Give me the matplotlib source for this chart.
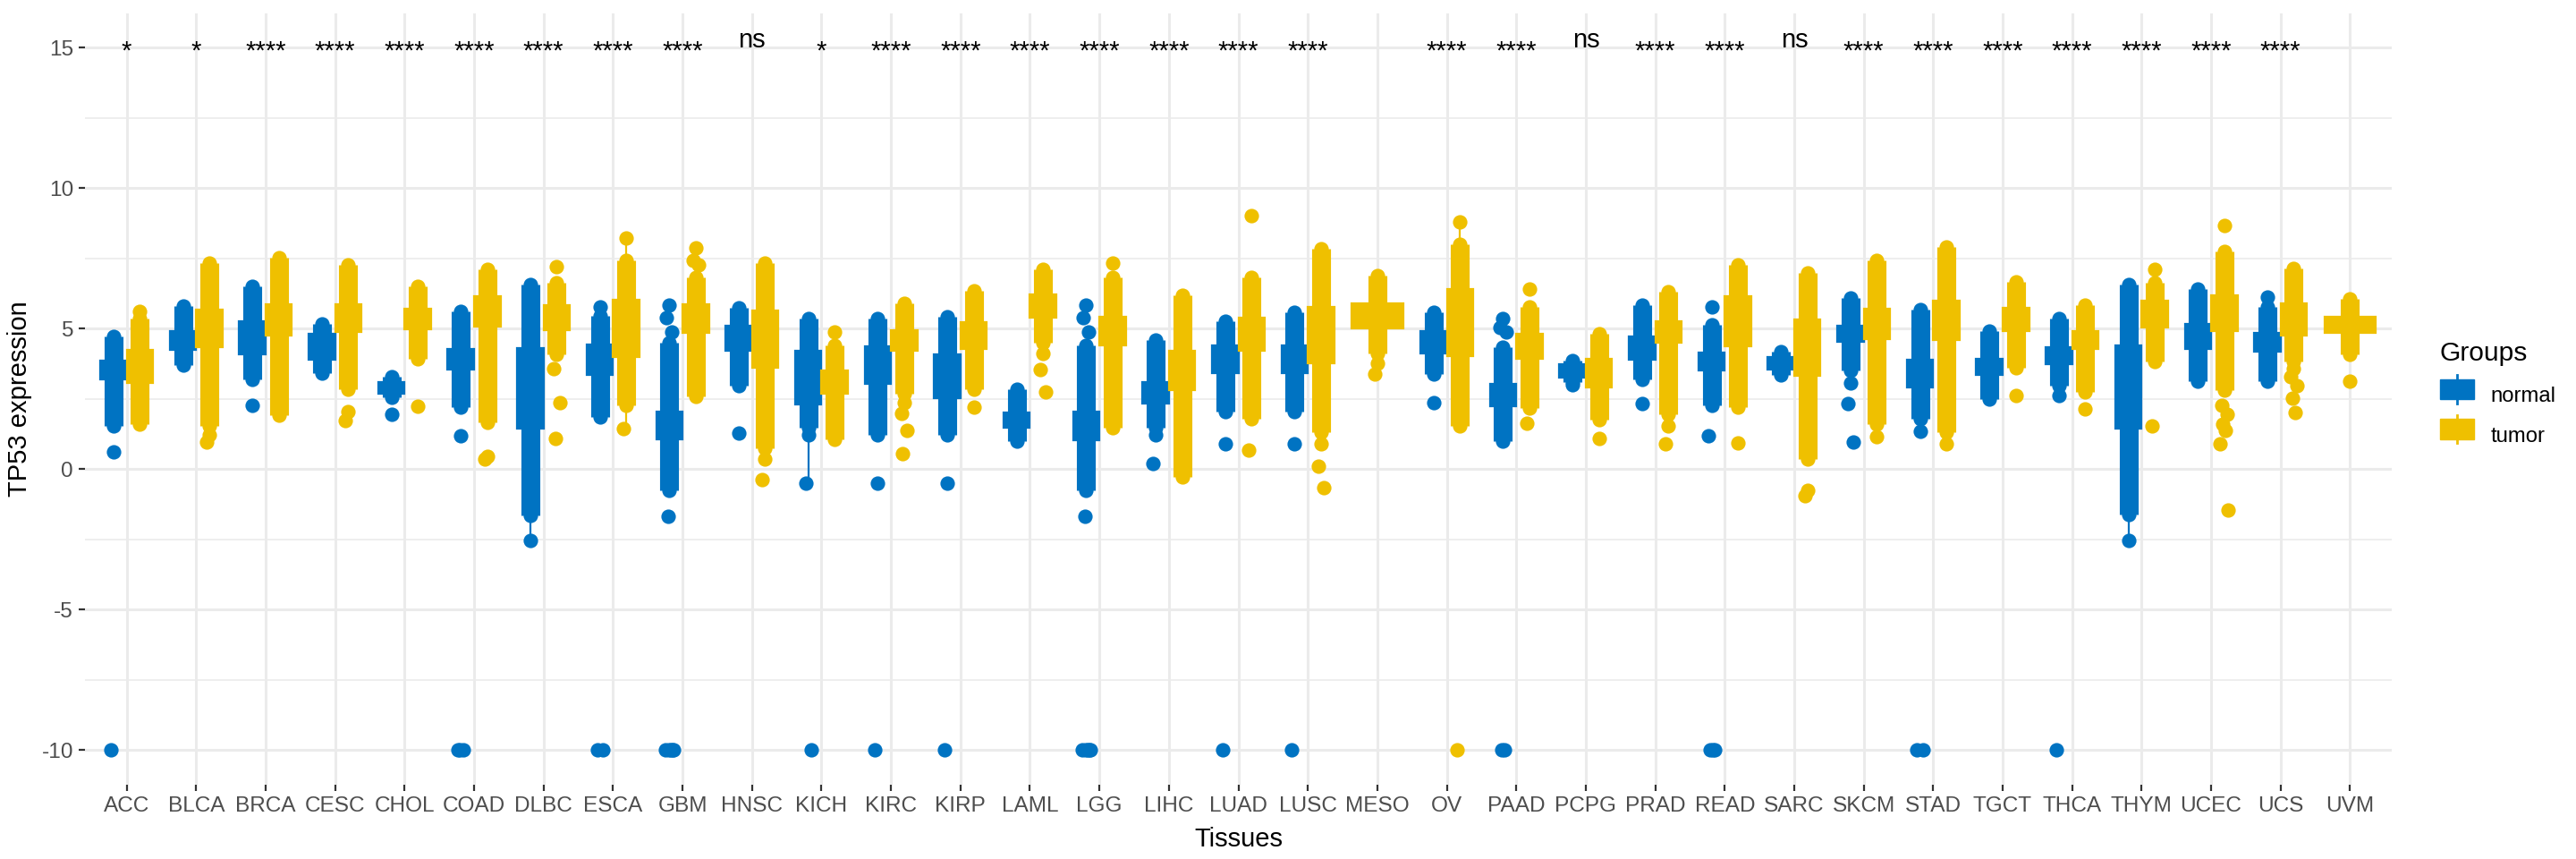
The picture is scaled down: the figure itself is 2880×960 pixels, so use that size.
import numpy as np
import matplotlib
matplotlib.use("Agg")
import matplotlib.pyplot as plt
from matplotlib.patches import Rectangle
from matplotlib.lines import Line2D
from matplotlib.legend_handler import HandlerBase

plt.rcParams['font.family'] = ['Liberation Sans', 'DejaVu Sans']
plt.rcParams['axes.unicode_minus'] = False

tissues = ['ACC', 'BLCA', 'BRCA', 'CESC', 'CHOL', 'COAD', 'DLBC', 'ESCA', 'GBM', 'HNSC',
           'KICH', 'KIRC', 'KIRP', 'LAML', 'LGG', 'LIHC', 'LUAD', 'LUSC', 'MESO', 'OV',
           'PAAD', 'PCPG', 'PRAD', 'READ', 'SARC', 'SKCM', 'STAD', 'TGCT', 'THCA', 'THYM',
           'UCEC', 'UCS', 'UVM']
signif = ['*', '*', '****', '****', '****', '****', '****', '****', '****', 'ns',
          '*', '****', '****', '****', '****', '****', '****', '****', '', '****',
          '****', 'ns', '****', '****', 'ns', '****', '****', '****', '****', '****',
          '****', '****', '']

nan = np.nan
# normal: box quartiles and range of the dense point column
normal_q1 = [3.18, 4.26, 4.08, 3.90, 2.70, 3.55, 1.43, 3.34, 1.06, 4.21, 2.30, 3.04, 2.54, 1.48, 1.03, 2.35, 3.42,
             3.42, nan, 4.11, 2.25, 3.26, 3.89, 3.50, 3.55, 4.53, 2.91, 3.37, 3.74, 1.43, 4.29, 4.19, nan]
normal_q3 = [3.88, 4.90, 5.25, 4.82, 3.10, 4.27, 4.32, 4.43, 2.06, 5.11, 4.21, 4.38, 4.10, 2.01, 2.06, 3.10, 4.40,
             4.40, nan, 4.93, 3.03, 3.73, 4.72, 4.16, 4.00, 5.11, 3.89, 3.94, 4.35, 4.40, 5.17, 4.86, nan]
normal_lo = [1.53, 3.71, 3.18, 3.42, 2.57, 2.22, -1.65, 1.85, -0.75, 2.97, 1.48, 1.22, 1.22, 1.00, -0.75, 1.48, 2.06,
             2.06, nan, 3.39, 1.00, 3.10, 3.18, 2.28, 3.37, 3.50, 1.80, 2.49, 2.97, -1.60, 3.13, 3.13, nan]
normal_hi = [4.72, 5.80, 6.52, 5.16, 3.29, 5.62, 6.56, 5.46, 4.51, 5.73, 5.36, 5.36, 5.41, 2.86, 4.40, 4.61, 5.25,
             5.57, nan, 5.57, 4.35, 3.87, 5.83, 5.14, 4.19, 6.10, 5.67, 4.93, 5.36, 6.58, 6.42, 5.78, nan]
normal_extra = {
    'ACC': [0.63, -10], 'BRCA': [2.28], 'CHOL': [1.96], 'COAD': [1.18, -10, -10, -10],
    'DLBC': [-2.55], 'ESCA': [5.78, -10, -10],
    'GBM': [5.83, 5.38, 4.88, -1.68, -10, -10, -10, -10, -10], 'HNSC': [1.27],
    'KICH': [1.22, -0.51, -10], 'KIRC': [-0.51, -10], 'KIRP': [-0.51, -10],
    'LGG': [5.83, 5.38, 4.88, -1.68, -10, -10, -10, -10, -10], 'LIHC': [1.22, 0.21],
    'LUAD': [0.90, -10], 'LUSC': [0.90, -10], 'OV': [2.38],
    'PAAD': [5.36, 5.04, 4.88, -10, -10], 'PCPG': [2.99], 'PRAD': [2.33],
    'READ': [5.78, 1.18, -10, -10, -10], 'SKCM': [3.07, 2.35, 0.97], 'STAD': [1.35, -10, -10],
    'THCA': [2.62, -10], 'THYM': [-2.55], 'UCS': [6.13],
}

# tumor
tumor_q1 = [3.07, 4.35, 4.77, 4.88, 4.98, 5.08, 4.96, 3.98, 4.86, 3.60, 2.68, 4.23, 4.27, 5.38, 4.40, 2.81, 4.21,
            3.76, 5.01, 4.01, 3.92, 2.91, 4.51, 4.37, 3.31, 4.63, 4.59, 4.93, 4.27, 5.04, 4.93, 4.75, 4.85]
tumor_q3 = [4.26, 5.67, 5.86, 5.86, 5.72, 6.17, 5.83, 6.02, 5.86, 5.64, 3.53, 4.96, 5.22, 6.23, 5.43, 4.21, 5.38,
            5.76, 5.89, 6.42, 4.82, 3.94, 5.27, 6.17, 5.33, 5.71, 6.01, 5.73, 4.93, 6.01, 6.20, 5.89, 5.44]
tumor_lo = [1.59, 1.53, 1.91, 2.86, 3.92, 1.67, 4.08, 2.28, 2.60, 0.74, 1.06, 2.70, 2.86, 4.51, 1.48, -0.27, 1.80,
            1.32, 4.13, 1.53, 2.17, 1.75, 1.96, 2.22, 0.37, 1.59, 1.32, 3.60, 2.75, 3.82, 2.81, 3.82, 4.08]
tumor_hi = [5.36, 7.35, 7.53, 7.27, 6.52, 7.11, 6.63, 7.43, 6.84, 7.32, 4.40, 5.89, 6.36, 7.11, 6.84, 6.20, 6.84,
            7.85, 6.89, 8.01, 5.78, 4.82, 6.31, 7.27, 7.00, 7.43, 7.90, 6.68, 5.83, 6.63, 7.74, 7.16, 6.05]
tumor_extra = {
    'ACC': [5.62], 'BLCA': [1.22, 0.98], 'CESC': [2.06, 1.72], 'CHOL': [2.25], 'COAD': [0.47, 0.37],
    'DLBC': [7.21, 3.57, 2.36, 1.11], 'ESCA': [8.22, 1.43], 'GBM': [7.88, 7.43, 7.27],
    'HNSC': [0.37, -0.38], 'KICH': [4.88], 'KIRC': [2.38, 1.98, 1.37, 0.55], 'KIRP': [2.22],
    'LAML': [4.13, 3.55, 2.75], 'LGG': [7.32], 'LUAD': [9.02, 0.68], 'LUSC': [0.90, 0.12, -0.66],
    'MESO': [3.76, 3.39], 'OV': [8.81, -10], 'PAAD': [6.40, 1.64], 'PCPG': [1.11],
    'PRAD': [1.53, 0.90], 'READ': [0.93], 'SARC': [-0.75, -0.94], 'SKCM': [1.16], 'STAD': [0.90],
    'TGCT': [2.62], 'THCA': [2.15], 'THYM': [7.11, 1.53],
    'UCEC': [8.68, 2.28, 1.96, 1.59, 1.37, 0.90, -1.46], 'UCS': [3.57, 3.29, 2.97, 2.54, 2.01],
    'UVM': [3.13],
}

colors = {'normal': '#0073C2', 'tumor': '#EFC000'}
jit = [0.0, -0.04, 0.04, -0.02, 0.02, -0.06, 0.06, -0.01, 0.05]
dot = 34

fig = plt.figure(figsize=(14.4, 4.8), dpi=200)
ax = fig.add_axes([95 / 2880, 1 - 876.7 / 960, (2674 - 95) / 2880, (876.7 - 15) / 960])


def draw_group(x, width, q1, q3, lo, hi, extra, col):
    vals = [lo, hi] + [v for v in extra if v > -9]
    iqr = q3 - q1
    whi = max([v for v in vals if v <= q3 + 1.5 * iqr] + [q3])
    wlo = min([v for v in vals if v >= q1 - 1.5 * iqr] + [q1])
    ax.plot([x, x], [wlo, whi], color=col, lw=0.8, zorder=2)
    ax.add_patch(Rectangle((x - width / 2, q1), width, iqr, fc=col, ec=col, lw=0.8, zorder=3))
    ax.plot([x, x], [lo, hi], color=col, lw=7.6, solid_capstyle='butt', zorder=4)
    ax.scatter([x, x], [lo, hi], s=dot, color=col, lw=0, zorder=4)
    ex = np.array(extra, dtype=float)
    if len(ex):
        xs = [x + jit[k % len(jit)] for k in range(len(ex))]
        ax.scatter(xs, ex, s=dot, color=col, lw=0, zorder=4)


for i, t in enumerate(tissues):
    single = np.isnan(normal_q1[i])
    if single:
        draw_group(i, 0.74, tumor_q1[i], tumor_q3[i], tumor_lo[i], tumor_hi[i],
                   tumor_extra.get(t, []), colors['tumor'])
    else:
        draw_group(i - 0.19, 0.38, normal_q1[i], normal_q3[i], normal_lo[i], normal_hi[i],
                   normal_extra.get(t, []), colors['normal'])
        draw_group(i + 0.19, 0.38, tumor_q1[i], tumor_q3[i], tumor_lo[i], tumor_hi[i],
                   tumor_extra.get(t, []), colors['tumor'])
    lab = signif[i]
    if lab == 'ns':
        ax.text(i, 15, lab, ha='center', va='baseline', fontsize=10.5, zorder=5)
    elif lab:
        ax.annotate(lab, (i, 15), xytext=(0, -4.5), textcoords='offset points',
                    ha='center', va='baseline', fontsize=10.5, zorder=5)

ax.set_xlim(-0.6, 32.6)
ax.set_ylim(-11.22, 16.22)
ax.set_xticks(range(len(tissues)))
ax.set_xticklabels(tissues)
ax.set_yticks([-10, -5, 0, 5, 10, 15])
ax.set_yticks([-7.5, -2.5, 2.5, 7.5, 12.5], minor=True)
ax.grid(True, which='major', color='#EBEBEB', lw=1.1, zorder=0)
ax.grid(True, which='minor', axis='y', color='#EBEBEB', lw=0.6, zorder=0)
ax.set_axisbelow(True)
for s in ax.spines.values():
    s.set_visible(False)
ax.tick_params(axis='both', which='major', length=2.5, width=0.8, color='#333333',
               labelsize=8.8, labelcolor='#4D4D4D', pad=2.2)
ax.tick_params(which='minor', length=0)

ax.set_xlabel('Tissues', fontsize=10.5)
ax.xaxis.set_label_coords(0.5, -0.055)
ax.set_ylabel('TP53 expression', fontsize=10.5, va='center')
ax.yaxis.set_label_coords(-0.0283, 0.5)


class BoxKey(HandlerBase):
    def create_artists(self, legend, orig, xd, yd, w, h, fontsize, trans):
        c = orig.get_facecolor()
        ln = Line2D([xd + w / 2] * 2, [yd - 0.2 * h, yd + 1.2 * h], color=c, lw=1.0, transform=trans)
        r = Rectangle((xd, yd), w, h, fc=c, ec=c, lw=0.5, transform=trans)
        return [ln, r]


handles = [Rectangle((0, 0), 1, 1, fc=colors['normal']), Rectangle((0, 0), 1, 1, fc=colors['tumor'])]
fig.legend(handles, ['normal', 'tumor'], title='Groups', loc='center left',
           bbox_to_anchor=(2706 / 2880, 1 - 440 / 960), frameon=False, fontsize=8.6,
           title_fontsize=10.8, handler_map={Rectangle: BoxKey()}, handlelength=1.6,
           handleheight=1.05, handletextpad=0.8, labelspacing=0.85, alignment='left')

fig.savefig('out.png', dpi=200, facecolor='white')
